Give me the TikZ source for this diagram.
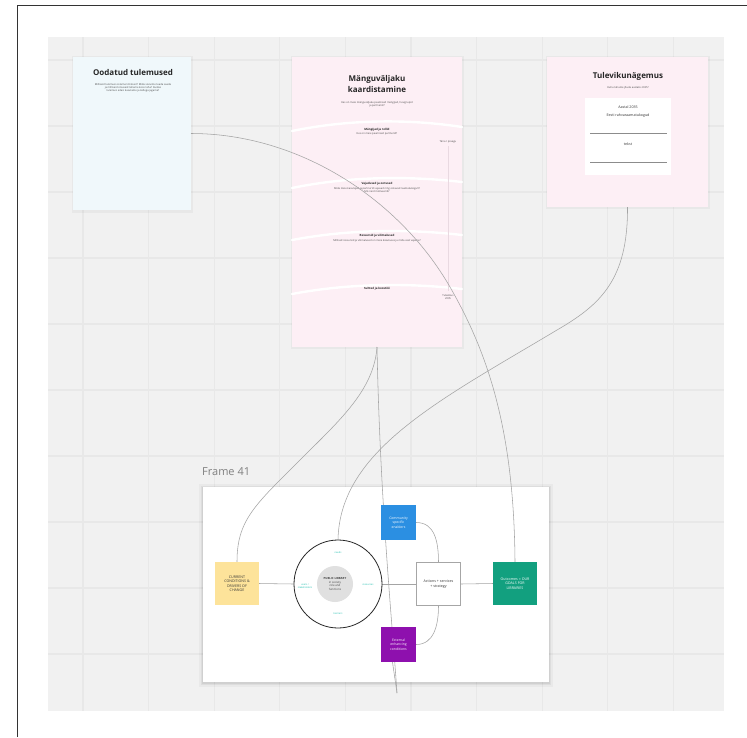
\documentclass[tikz,border=0pt]{standalone}
\usepackage{fontspec}
\setmainfont{Open Sans}
\usetikzlibrary{calc}
\definecolor{board}{HTML}{F1F1F1}
\definecolor{gridc}{HTML}{E8E8E8}
\definecolor{cardblue}{HTML}{F0F8FB}
\definecolor{cardpink}{HTML}{FDEFF5}
\definecolor{yellowbox}{HTML}{FDE39A}
\definecolor{bluebox}{HTML}{2B8FE2}
\definecolor{purplebox}{HTML}{8E10AE}
\definecolor{greenbox}{HTML}{12A07F}
\definecolor{innergray}{HTML}{E0E0E0}
\definecolor{cyanlab}{HTML}{1FBFB0}
\definecolor{connc}{HTML}{A4A4A4}
\definecolor{tlc}{HTML}{E9D9E1}
\pgfdeclarelayer{bg}
\pgfdeclarelayer{mid}
\pgfsetlayers{bg,mid,main}
\tikzset{
  card/.style={anchor=north west, inner sep=0pt, outer sep=0pt},
  tiny/.style={font=\fontsize{2.6}{3.3}\selectfont, align=center, text=black!70},
  head/.style={font=\fontsize{2.9}{3.5}\selectfont\bfseries, align=center, text=black!85},
  conn/.style={draw=connc, line width=0.55pt},
  fbox/.style={minimum width=44pt, minimum height=43pt, inner sep=1pt, align=center, font=\fontsize{3.6}{4.5}\selectfont},
  sbox/.style={minimum width=35pt, minimum height=35pt, inner sep=1pt, align=center, font=\fontsize{3.4}{4.3}\selectfont, text=white},
  cyl/.style={font=\fontsize{2.4}{2.9}\selectfont, text=cyanlab, align=center},
  gridline/.style={draw=gridc, line width=1.1pt},
  wband/.style={draw=white, line width=2.4pt, line cap=round},
}
\begin{document}
\begin{tikzpicture}[x=1pt,y=-1pt]
\useasboundingbox (0,0) rectangle (747,737);
\begin{pgfonlayer}{bg}
\fill[white] (0,0) rectangle (747,737);
\draw[black!80, line width=1pt] (17,737) -- (17,5) -- (747,5);
\fill[board] (48,37) rectangle (724,711);
\foreach \i in {0,...,9} {
  \draw[gridline] ({83+65.6*\i},37) -- ({83+65.6*\i},711);
  \draw[gridline] (48,{60+66*\i}) -- (724,{60+66*\i});
}
% cards
\fill[black, opacity=0.035] (72,56) rectangle (193,213);
\node[card, fill=cardblue, minimum width=118pt, minimum height=153pt] (oodatud) at (73,57) {};
\fill[black, opacity=0.035] (291,56) rectangle (464,349);
\node[card, fill=cardpink, minimum width=170pt, minimum height=290pt] (mang) at (292,57) {};
\fill[black, opacity=0.035] (546,56) rectangle (710,209);
\node[card, fill=cardpink, minimum width=161pt, minimum height=150pt] (tulevik) at (547,57) {};

% Oodatud tulemused content
\node[font=\fontsize{8}{9}\selectfont\bfseries, text=black!85] (t1) at (133,72) {Oodatud tulemused};
\node[tiny] (t1s) at (133,88) {Milliseid tulemusi ootame töötoast? Mida soovime teada saada\\ja milliseid otsuseid tahame koos teha? Kuidas\\tulemusi edasi kasutame ja kellega jagame?};

% Mänguväljaku content
\node[font=\fontsize{8}{11}\selectfont\bfseries, align=center, text=black!85] (t2) at (377,83.5) {Mänguväljaku\\kaardistamine};
\node[tiny] (t2s) at (377,104.5) {Kes on meie mänguväljaku peamised mängijad, huvigrupid\\ja partnerid?};
\draw[wband] (292,131) .. controls (350,119) and (410,119) .. (462,127);
\draw[wband] (292,188) .. controls (350,176) and (410,176) .. (462,182);
\draw[wband] (292,240) .. controls (350,229) and (410,229) .. (462,235);
\draw[wband] (292,294) .. controls (350,283) and (410,283) .. (462,289);
\node[head] (h1) at (377,129.5) {Mängijad ja rollid};
\node[tiny] (h1s) at (377,133.5) {Kes on meie peamised partnerid?};
\node[head] (h2) at (377,184) {Vajadused ja ootused};
\node[tiny] (h2s) at (377,190) {Mida meie kasutajad ja partnerid vajavad ning ootavad raamatukogult?\\Mis neid motiveerib?};
\node[head] (h3) at (377,236) {Ressursid ja võimalused};
\node[tiny] (h3s) at (377,241) {Millised ressursid ja võimalused on meie käsutuses ja mida veel vajame?};
\node[head] (h4) at (377,288.5) {Suhted ja koostöö};
\node[tiny] (tl1) at (448,141.5) {Täna / praegu};
\node[tiny] (tl2) at (448,297) {Tulevikus\\2035};
\draw[tlc, line width=1pt] (tl1.south) -- (tl2.north);

% Tulevikunägemus content
\node[font=\fontsize{8}{9}\selectfont\bfseries, text=black!85] (t3) at (628,76.5) {Tulevikunägemus};
\node[tiny] (t3s) at (628,88) {Kuhu tahame jõuda aastaks 2035?};
\node[card, fill=white, minimum width=86pt, minimum height=77pt] (vbox) at (585,98) {};
\node[font=\fontsize{3.6}{8}\selectfont, align=center, text=black!80] (vt1) at (628,112) {Aastal 2035\\Eesti rahvaraamatukogud};
\draw[black!45, line width=0.4pt] (590,133) -- (667,133);
\node[font=\fontsize{3.6}{4}\selectfont, text=black!80] (vt2) at (628,144) {tekst};
\draw[black!45, line width=0.4pt] (590,162) -- (667,162);

% Frame 41
\node[anchor=south west, inner sep=0pt, font=\fontsize{11}{12}\selectfont, text=black!50] (flabel) at (202,476) {Frame 41};
\fill[black, opacity=0.03] (199,484) rectangle (553,687);
\fill[black, opacity=0.05] (201,486) rectangle (551,685);
\fill[black, opacity=0.06] (202,487) rectangle (550,684);
\node[card, fill=white, minimum width=346pt, minimum height=195pt] (frame) at (203,487) {};
\end{pgfonlayer}

% frame content nodes
\node[fbox, fill=yellowbox, text=black!80] (cur) at (237,583.5) {CURRENT\\CONDITIONS \&\\DRIVERS OF\\CHANGE};
\node[circle, draw=black!85, line width=0.8pt, minimum size=88pt, inner sep=0pt] (outer) at (338,584) {};
\node[circle, fill=innergray, minimum size=36pt, inner sep=0pt, align=center, font=\fontsize{2.8}{3.5}\selectfont, text=black!75] (inner) at (335,584) {\textbf{PUBLIC LIBRARY}\\in society\\role and\\functions};
\node[cyl] (ltop) at (338,553) {needs};
\node[cyl] (lbot) at (338,614) {barriers};
\node[cyl] (lleft) at (305,586) {users /\\stakeholders};
\node[cyl] (lright) at (368,585) {resources};
\node[sbox, fill=bluebox] (blue) at (398.5,522.5) {Community\\specific\\enablers};
\node[sbox, fill=purplebox] (purple) at (398.5,644.5) {External\\enhancing\\conditions};
\node[fbox, fill=white, draw=black!35, line width=0.4pt, text=black!80] (act) at (438.5,584) {Actions + services\\+ strategy};
\node[fbox, fill=greenbox, text=white] (green) at (515,583.5) {Outcomes = OUR\\GOALS FOR\\LIBRARIES};
\coordinate (vtip) at (397,693);

\begin{pgfonlayer}{mid}
% frame internal connectors
\draw[conn] (cur.east) -- (outer.west);
\draw[conn] (outer.east) -- (act.west);
\draw[conn] (act.east) -- (green.west);
\draw[conn] (blue.east) .. controls (434,522.5) and (438.5,540) .. (act.north);
\draw[conn] (purple.east) .. controls (434,644.5) and (438.5,625) .. (act.south);
% long connectors
\draw[conn] (oodatud.east) .. controls (300,133.5) and (400,200) .. (450,287)
  .. controls (488,353) and (514,430) .. (green.north);
\draw[conn] (mang.south) .. controls (374,390) and (340,420) .. (300,460)
  .. controls (255,505) and (237,520) .. (cur.north);
\draw[conn] (mang.south) .. controls (380,500) and (392,620) .. (vtip);
\draw[conn] ($(purple.south)+(-6,0)$) -- (vtip);
\draw[conn] (tulevik.south) .. controls (628,280) and (600,305) .. (557,330)
  .. controls (440,400) and (340,450) .. (outer.north);
\end{pgfonlayer}
\end{tikzpicture}
\end{document}
